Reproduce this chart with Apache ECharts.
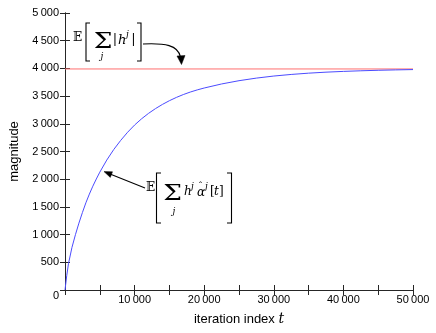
<!DOCTYPE html>
<html>
<head>
<meta charset="utf-8">
<script src="https://cdn.jsdelivr.net/npm/echarts@6/dist/echarts.min.js"></script>
<style>
html,body{margin:0;padding:0;background:#fff;}
#c{width:436px;height:333px;}
</style>
</head>
<body>
<div id="c"></div>
<script>
// ---- data ----
var iterT = [0, 250, 500, 1000, 1500, 2000, 2500, 3000, 3500, 4000, 4500, 5000, 6000, 7000, 8000, 9000, 10000,
  11000, 12000, 13000, 14000, 15000, 16000, 17000, 18000, 19000, 20000, 22500, 25000, 27500, 30000, 32500, 35000,
  37500, 40000, 42500, 45000, 47500, 50000];
var expectedSum = [0, 260, 475, 769, 999, 1207, 1397, 1574, 1731, 1874, 2004, 2127, 2345, 2535, 2700, 2848, 2978,
  3090, 3188, 3274, 3350, 3417, 3476, 3528, 3573, 3612, 3646, 3719, 3778, 3825, 3862, 3891, 3914,
  3932, 3946, 3957, 3966, 3973, 3979];
var refT = [0, 50000];
var refLevel = [3990, 3990];
var yTicks = [0, 500, 1000, 1500, 2000, 2500, 3000, 3500, 4000, 4500, 5000];
var xTicks = [0, 10000, 20000, 30000, 40000, 50000];

function fmt(v) {
  var s = String(v);
  if (s.length > 3) s = s.slice(0, s.length - 3) + '\u2009' + s.slice(s.length - 3);
  return s;
}

var chart = echarts.init(document.getElementById('c'), null, {renderer: 'canvas'});

var frame = {show: true, lineStyle: {color: '#262626', width: 1}};
var tickIn = {show: true, inside: true, length: 5, lineStyle: {color: '#262626', width: 1}};
var labelFont = {fontFamily: 'Liberation Sans', fontSize: 11, color: '#000'};
var serif = 'DejaVu Serif';

function txt(x, y, s, size, italic, align, sx) {
  return {
    type: 'text', x: x, y: y, z: 100, scaleX: sx || 1,
    style: {
      text: s, fill: '#000',
      font: (italic ? 'italic ' : '') + size + 'px "' + serif + '"',
      textAlign: align || 'left', textVerticalAlign: 'middle'
    }
  };
}
function poly(pts, w) {
  return {type: 'polyline', z: 100, shape: {points: pts}, style: {stroke: '#000', lineWidth: w || 1.1, fill: null}};
}
function tri(pts) {
  return {type: 'polygon', z: 100, shape: {points: pts}, style: {fill: '#000', stroke: '#000', lineWidth: 0.5}};
}

var graphics = [
  // annotation 1: E[ sum_j |h^j| ]
  txt(73, 38, '𝔼', 12, false),
  poly([[90, 23], [86, 23], [86, 61], [90, 61]]),
  txt(103, 42, 'Σ', 23, false, 'center', 1.15),
  txt(102, 57, 'j', 9, true, 'center'),
  txt(115, 40, '|', 13, false, 'center'),
  txt(118, 41, 'h', 13, true),
  txt(126, 35, 'j', 9, true),
  txt(133.5, 40, '|', 13, false, 'center'),
  poly([[137, 23], [141, 23], [141, 61], [137, 61]]),
  {type: 'bezierCurve', z: 100,
   shape: {x1: 143, y1: 44, cpx1: 165, cpy1: 43, cpx2: 178, cpy2: 45, x2: 180.5, y2: 57},
   style: {stroke: '#000', lineWidth: 1.1, fill: null}},
  tri([[181.5, 64.5], [177, 56], [185, 55.5]]),

  // annotation 2: E[ sum_j h^j alpha-hat^j [t] ]
  txt(146, 188, '𝔼', 12, false),
  poly([[161, 173], [156.5, 173], [156.5, 223], [161, 223]]),
  txt(172.5, 194, 'Σ', 23, false, 'center', 1.15),
  txt(174, 212, 'j', 9, true, 'center'),
  txt(184, 192, 'h', 12, true),
  txt(191, 187, 'j', 9, true),
  txt(197, 193, 'α', 12, true),
  txt(200.5, 186.5, 'ˆ', 10, false, 'center'),
  txt(205, 187, 'j', 9, true),
  txt(210, 192, '[', 12, false),
  txt(214, 192, 't', 12, true),
  txt(219, 192, ']', 12, false),
  poly([[227, 173], [231.5, 173], [231.5, 223], [227, 223]]),
  {type: 'line', z: 100, shape: {x1: 145, y1: 188, x2: 110, y2: 174},
   style: {stroke: '#000', lineWidth: 1.1}},
  tri([[104, 171.6], [112.5, 171.8], [110.3, 177.4]])
];

var option = {
  animation: false,
  backgroundColor: '#fff',
  grid: {left: 60, right: 23, top: 13, bottom: 43, containLabel: false},
  xAxis: [{
    type: 'value', position: 'bottom', min: 0, max: 50000, interval: 5000,
    axisLine: frame, axisTick: tickIn, splitLine: {show: false},
    axisLabel: Object.assign({margin: 4, formatter: function (v) {
      return (xTicks.indexOf(v) > 0) ? fmt(v) : '';
    }}, labelFont),
    name: 'iteration index {t|t}', nameLocation: 'middle', nameGap: 22,
    nameTextStyle: {fontFamily: 'Liberation Sans', fontSize: 13, color: '#000',
      rich: {t: {fontFamily: serif, fontStyle: 'italic', fontSize: 14, color: '#000'}}}
  }, {
    type: 'value', position: 'top', min: 0, max: 50000, interval: 5000,
    axisLine: frame, axisTick: tickIn, axisLabel: {show: false}, splitLine: {show: false}
  }],
  yAxis: [{
    type: 'value', position: 'left', min: 0, max: 5000, interval: 500,
    axisLine: frame, axisTick: tickIn, splitLine: {show: false},
    axisLabel: Object.assign({margin: 6, formatter: function (v) {
      if (yTicks.indexOf(v) < 0) return '';
      return v === 0 ? '{z|0}' : fmt(v);
    }, rich: {z: {fontFamily: 'Liberation Sans', fontSize: 11, color: '#000', padding: [12, 0, 0, 0]}}}, labelFont),
    name: 'magnitude', nameLocation: 'middle', nameGap: 44,
    nameTextStyle: {fontFamily: 'Liberation Sans', fontSize: 13, color: '#000'}
  }, {
    type: 'value', position: 'right', min: 0, max: 5000, interval: 500,
    axisLine: frame, axisTick: tickIn, axisLabel: {show: false}, splitLine: {show: false}
  }],
  series: [{
    type: 'line', name: 'ref', showSymbol: false, symbol: 'none',
    data: refT.map(function (t, i) { return [t, refLevel[i]]; }),
    lineStyle: {color: '#ff6f6f', width: 1}, z: 2
  }, {
    type: 'line', name: 'sum', showSymbol: false, symbol: 'none', smooth: false,
    data: iterT.map(function (t, i) { return [t, expectedSum[i]]; }),
    lineStyle: {color: '#4b4bff', width: 1}, z: 3
  }],
  graphic: graphics
};
chart.setOption(option);
</script>
</body>
</html>
